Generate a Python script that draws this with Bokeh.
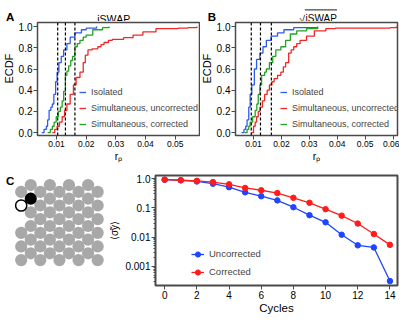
import math
from bokeh.plotting import figure
from bokeh.layouts import column, row
from bokeh.models import Range1d, Span, Legend, LegendItem, FixedTicker
from bokeh.core.properties import value
from bokeh.embed import file_html
from bokeh.resources import INLINE

FONT = "Liberation Sans"
BLUE = "#2f5cf0"
RED = "#f02828"
GREEN = "#22a322"
D_BLUE = "#1f45ff"
D_RED = "#ff1c1c"
GRAY = "#a8a8a8"
FRAME = "#4a4a4a"

# ---------------- data: panel A (iSWAP) ECDF step vertices ----------------
a_iso_x = [0.0050, 0.0058, 0.0066, 0.0070, 0.0075, 0.0081, 0.0086, 0.0091, 0.0097,
           0.0102, 0.0108, 0.0116, 0.0124, 0.0135, 0.0146, 0.0162, 0.0184, 0.0200, 0.0235]
a_iso_y = [0.0, 0.03, 0.06, 0.12, 0.21, 0.24, 0.27, 0.36, 0.48,
           0.57, 0.66, 0.72, 0.78, 0.84, 0.90, 0.94, 0.97, 0.985, 1.0]
a_unc_x = [0.0086, 0.0094, 0.0102, 0.0110, 0.0119, 0.0127, 0.0135, 0.0146, 0.0157, 0.0166,
           0.0179, 0.0190, 0.0197, 0.0206, 0.0220, 0.0239, 0.0250, 0.0260, 0.0275, 0.0288,
           0.0326, 0.0358, 0.0391, 0.0435, 0.0510, 0.0543, 0.0573]
a_unc_y = [0.0, 0.03, 0.06, 0.10, 0.15, 0.21, 0.27, 0.36, 0.45, 0.52,
           0.57, 0.66, 0.73, 0.78, 0.79, 0.81, 0.83, 0.85, 0.87, 0.88,
           0.895, 0.92, 0.95, 0.98, 0.985, 0.99, 1.0]
a_cor_x = [0.0070, 0.0079, 0.0086, 0.0092, 0.0099, 0.0106, 0.0113, 0.0119, 0.0124, 0.0130,
           0.0135, 0.0141, 0.0148, 0.0154, 0.0162, 0.0170, 0.0179, 0.0190, 0.0200, 0.0222,
           0.0255, 0.0277]
a_cor_y = [0.0, 0.03, 0.06, 0.10, 0.15, 0.20, 0.24, 0.30, 0.39, 0.54,
           0.58, 0.63, 0.68, 0.72, 0.81, 0.84, 0.87, 0.90, 0.92, 0.97,
           0.99, 1.0]
a_dashes = [0.0104, 0.0130, 0.0162]

# ---------------- data: panel B (sqrt iSWAP) ----------------
b_iso_x = [0.0057, 0.0066, 0.0072, 0.0077, 0.0083, 0.0088, 0.0094, 0.0103, 0.0111,
           0.0123, 0.0134, 0.0146, 0.0163, 0.0186, 0.0209, 0.0244, 0.0330]
b_iso_y = [0.0, 0.03, 0.06, 0.12, 0.24, 0.36, 0.45, 0.60, 0.69,
           0.75, 0.81, 0.87, 0.91, 0.94, 0.97, 0.99, 1.0]
b_unc_x = [0.0092, 0.0100, 0.0106, 0.0111, 0.0117, 0.0123, 0.0132, 0.0140, 0.0149, 0.0157,
           0.0166, 0.0174, 0.0186, 0.0198, 0.0207, 0.0215, 0.0226, 0.0235, 0.0244, 0.0255,
           0.0267, 0.0290, 0.0318, 0.0359, 0.0393, 0.0589, 0.0612]
b_unc_y = [0.0, 0.06, 0.10, 0.15, 0.20, 0.24, 0.30, 0.36, 0.40, 0.45,
           0.48, 0.51, 0.54, 0.57, 0.62, 0.66, 0.75, 0.78, 0.81, 0.84,
           0.87, 0.91, 0.96, 0.98, 0.985, 0.99, 1.0]
b_cor_x = [0.0069, 0.0077, 0.0083, 0.0088, 0.0097, 0.0106, 0.0112, 0.0117, 0.0123, 0.0129,
           0.0140, 0.0146, 0.0157, 0.0169, 0.0180, 0.0198, 0.0215, 0.0232, 0.0255, 0.0290,
           0.0330]
b_cor_y = [0.0, 0.03, 0.06, 0.10, 0.15, 0.21, 0.27, 0.36, 0.45, 0.54,
           0.57, 0.60, 0.66, 0.72, 0.78, 0.81, 0.87, 0.93, 0.96, 0.98,
           0.99]
b_dashes = [0.0092, 0.0125, 0.0164]

series_names = ["Isolated", "Simultaneous, uncorrected", "Simultaneous, corrected"]
panel_titles = ["iSWAP", "iSWAP"]
panel_letters = ["A", "B", "C"]

ecdf_y_ticks = [0.0, 0.2, 0.4, 0.6, 0.8, 1.0]
ecdf_y_labels = ["0.0", "0.2", "0.4", "0.6", "0.8", "1.0"]
a_x_ticks = [0.01, 0.02, 0.03, 0.04, 0.05]
a_x_labels = ["0.01", "0.02", "0.03", "0.04", "0.05"]
b_x_ticks = [0.01, 0.02, 0.03, 0.04, 0.05, 0.06]
b_x_labels = ["0.01", "0.02", "0.03", "0.04", "0.05", "0.06"]

# ---------------- data: panel C (qubit lattice) ----------------
# row -> lattice columns (half-spacing indices)
lattice_rows = {
    0: [1, 3, 5, 7], 1: [0, 2, 4, 6, 8], 2: [1, 3, 5, 7], 3: [0, 2, 4, 6, 8],
    4: [1, 3, 5, 7], 5: [2, 4, 6, 8], 6: [1, 3, 5, 7], 7: [0, 2, 4, 6, 8],
    8: [1, 3, 5, 7], 9: [0, 2, 4, 6, 8], 10: [1, 3, 5, 7], 11: [0, 2, 4, 6, 8],
}
black_site = (2, 1)
white_site = (3, 0)

# ---------------- data: panel D ----------------
cycles = [0, 1, 2, 3, 4, 5, 6, 7, 8, 9, 10, 11, 12, 13, 14]
uncorrected = [0.92, 0.88, 0.80, 0.67, 0.51, 0.34, 0.25, 0.18, 0.105, 0.056,
               0.032, 0.012, 0.0052, 0.0044, 0.00031]
corrected = [0.92, 0.88, 0.84, 0.76, 0.64, 0.48, 0.40, 0.32, 0.22, 0.149,
             0.090, 0.054, 0.029, 0.0127, 0.0054]
d_x_ticks = [0, 2, 4, 6, 8, 10, 12, 14]
d_x_labels = ["0", "2", "4", "6", "8", "10", "12", "14"]
d_y_ticks = [0.001, 0.01, 0.1, 1.0]
d_y_labels = ["0.001", "0.01", "0.1", "1.0"]
d_y_minor = [k * 10.0 ** e for e in range(-4, 1) for k in range(2, 10)]


def strip(width, height):
    """Blank figure whose frame is the whole canvas, in pixel units (y up)."""
    s = figure(width=width, height=height, title=None, output_backend="svg",
               toolbar_location=None, x_range=Range1d(0, width), y_range=Range1d(0, height),
               x_axis_location=None, y_axis_location=None,
               min_border_left=0, min_border_right=0, min_border_top=0, min_border_bottom=0)
    s.grid.visible = False
    s.outline_line_color = None
    return s


def put_text(s, x, y, text, size, bold=False, angle=0.0, align="left", baseline="alphabetic"):
    s.text(x=[x], y=[y], text=[text], angle=angle, text_font=value(FONT),
           text_font_size=value(f"{size}px"),
           text_font_style="bold" if bold else "normal",
           text_align=align, text_baseline=baseline, text_color="#000000")


def style_axes(p, xt, xl, yt, yl, xsize, ysize, yminor=None):
    p.xaxis.ticker = FixedTicker(ticks=xt)
    p.xaxis.major_label_overrides = dict(zip(xt, xl))
    if yminor is not None:
        p.yaxis.ticker = FixedTicker(ticks=yt, minor_ticks=yminor)
    else:
        p.yaxis.ticker = FixedTicker(ticks=yt)
    p.yaxis.major_label_overrides = dict(zip(yt, yl))
    for ax in (p.xaxis, p.yaxis):
        ax.axis_line_color = None
        ax.major_tick_in = 0
        ax.major_tick_out = 4
        ax.major_tick_line_color = FRAME
        ax.minor_tick_in = 0
        ax.minor_tick_out = 0
        ax.minor_tick_line_color = FRAME
        ax.major_label_text_font = FONT
        ax.major_label_text_color = "#000000"
        ax.axis_label_text_font = FONT
        ax.axis_label_text_font_style = "normal"
        ax.axis_label_text_color = "#000000"
        ax.axis_label_standoff = 0
    if yminor is not None:
        p.yaxis.minor_tick_out = 2
    p.xaxis.major_label_standoff = 1
    p.yaxis.major_label_standoff = 1
    p.xaxis.major_label_text_font_size = f"{xsize}px"
    p.yaxis.major_label_text_font_size = f"{ysize}px"


def ecdf_panel(width, left, right, xr, curves, dashes, xt, xl, legend_x):
    p = figure(width=width, height=143, title=None, output_backend="svg", toolbar_location=None,
               x_range=Range1d(*xr), y_range=Range1d(-0.027, 1.0385),
               min_border_left=left, min_border_right=right, min_border_top=1,
               min_border_bottom=27)
    p.grid.visible = False
    p.outline_line_color = FRAME
    p.outline_line_width = 1.5
    style_axes(p, xt, xl, ecdf_y_ticks, ecdf_y_labels, 8.5, 10)
    p.xaxis.axis_label = "r\u209A"
    p.xaxis.axis_label_text_font_size = "10.5px"
    for d in dashes:
        p.add_layout(Span(location=d, dimension="height", line_color="black",
                          line_width=1.2, line_dash="3 2"))
    items = []
    for name, xs, ys, color in curves:
        r = p.step(x=xs, y=ys, mode="after", line_color=color, line_width=1.3)
        items.append(LegendItem(label=name, renderers=[r]))
    leg = Legend(items=items, location=(legend_x, 3.5), orientation="vertical",
                 padding=0, margin=0, spacing=0, glyph_width=7, glyph_height=16,
                 label_height=16, label_standoff=5, label_text_font=FONT,
                 label_text_font_size="9px", border_line_color=None,
                 background_fill_alpha=0)
    p.add_layout(leg)
    return p


# ---------------- header strip (letters + titles), picture y 0..21 ----------------
head = strip(399, 21)
put_text(head, 5.4, 4.3, panel_letters[0], 11.5, bold=True)
put_text(head, 113.2, 3.0, panel_titles[0], 10.5, align="center")
put_text(head, 207.2, 4.3, panel_letters[1], 11.5, bold=True)
put_text(head, 304.5, 3.0, "\u221A", 10.5, align="right")
put_text(head, 305.0, 3.0, panel_titles[1], 10, align="left")
head.segment(x0=[304.3], y0=[11.6], x1=[336.5], y1=[11.6], line_color="black", line_width=0.9)

# ---------------- ECDF panels, picture y 21..164 ----------------
stripA = strip(15, 143)
put_text(stripA, 8.4, 84.6, "ECDF", 11, angle=math.pi / 2, align="center", baseline="middle")
pA = ecdf_panel(185, 21, 1, (0.003595, 0.05817),
                [(series_names[0], a_iso_x, a_iso_y, BLUE),
                 (series_names[1], a_unc_x, a_unc_y, RED),
                 (series_names[2], a_cor_x, a_cor_y, GREEN)],
                a_dashes, a_x_ticks, a_x_labels, 42)
stripB = strip(13, 143)
put_text(stripB, 6.5, 84.6, "ECDF", 11, angle=math.pi / 2, align="center", baseline="middle")
pB = ecdf_panel(186, 19, 2, (0.00355, 0.0616),
                [(series_names[0], b_iso_x, b_iso_y, BLUE),
                 (series_names[1], b_unc_x, b_unc_y, RED),
                 (series_names[2], b_cor_x, b_cor_y, GREEN)],
                b_dashes, b_x_ticks, b_x_labels, 45)

# ---------------- panel C, picture x 0..104, y 164..316 ----------------
pC = figure(width=104, height=152, title=None, output_backend="svg", toolbar_location=None,
            x_range=Range1d(-2.166, 8.718), y_range=Range1d(14.72, -1.40),
            x_axis_location=None, y_axis_location=None,
            min_border_left=0, min_border_right=0, min_border_top=0, min_border_bottom=0)
pC.grid.visible = False
pC.outline_line_color = None
gx, gy = [], []
for rr, cols in lattice_rows.items():
    for cc in cols:
        if (rr, cc) in (black_site, white_site):
            continue
        gx.append(cc)
        gy.append(rr)
pC.scatter(x=gx, y=gy, size=12.2, fill_color=GRAY, line_color=None)
pC.scatter(x=[black_site[1]], y=[black_site[0]], size=12.2, fill_color="black", line_color=None)
pC.scatter(x=[white_site[1]], y=[white_site[0]], size=11.2, fill_color="white",
           line_color="black", line_width=1.5)
pC.text(x=[-1.60], y=[-0.66], text=[panel_letters[2]], text_font=value(FONT),
        text_font_size=value("11.5px"), text_font_style="bold",
        text_align="left", text_baseline="middle", text_color="#000000")

# ---------------- panel D, picture x 104..399 ----------------
pD = figure(width=295, height=152, title=None, y_axis_type="log", output_backend="svg",
            toolbar_location=None,
            x_range=Range1d(-0.57, 14.47), y_range=Range1d(0.000219, 1.28),
            min_border_left=51, min_border_right=2, min_border_top=11, min_border_bottom=30)
pD.grid.visible = False
pD.outline_line_color = FRAME
pD.outline_line_width = 2
style_axes(pD, d_x_ticks, d_x_labels, d_y_ticks, d_y_labels, 10, 10, yminor=d_y_minor)
pD.xaxis.axis_label = "Cycles"
pD.xaxis.axis_label_text_font_size = "11.5px"
pD.yaxis.axis_label = "\u27E8\u03C3\u0303y\u27E9"
pD.yaxis.axis_label_text_font_size = "10px"
pD.yaxis.axis_label_standoff = 2
lu = pD.line(cycles, uncorrected, line_color=D_BLUE, line_width=1.3)
su = pD.scatter(cycles, uncorrected, size=5.5, fill_color=D_BLUE, line_color=D_BLUE)
lc = pD.line(cycles, corrected, line_color=D_RED, line_width=1.3)
sc = pD.scatter(cycles, corrected, size=5.5, fill_color=D_RED, line_color=D_RED)
legD = Legend(items=[LegendItem(label="Uncorrected", renderers=[lu, su]),
                     LegendItem(label="Corrected", renderers=[lc, sc])],
              location=(36, 4.5), orientation="vertical", padding=0, margin=0, spacing=0,
              glyph_width=13, glyph_height=18, label_height=18, label_standoff=5,
              label_text_font=FONT, label_text_font_size="9.5px",
              border_line_color=None, background_fill_alpha=0)
pD.add_layout(legD)

layout = column(head, row(stripA, pA, stripB, pB), row(pC, pD))
open("out.html", "w").write(file_html(layout, INLINE))
